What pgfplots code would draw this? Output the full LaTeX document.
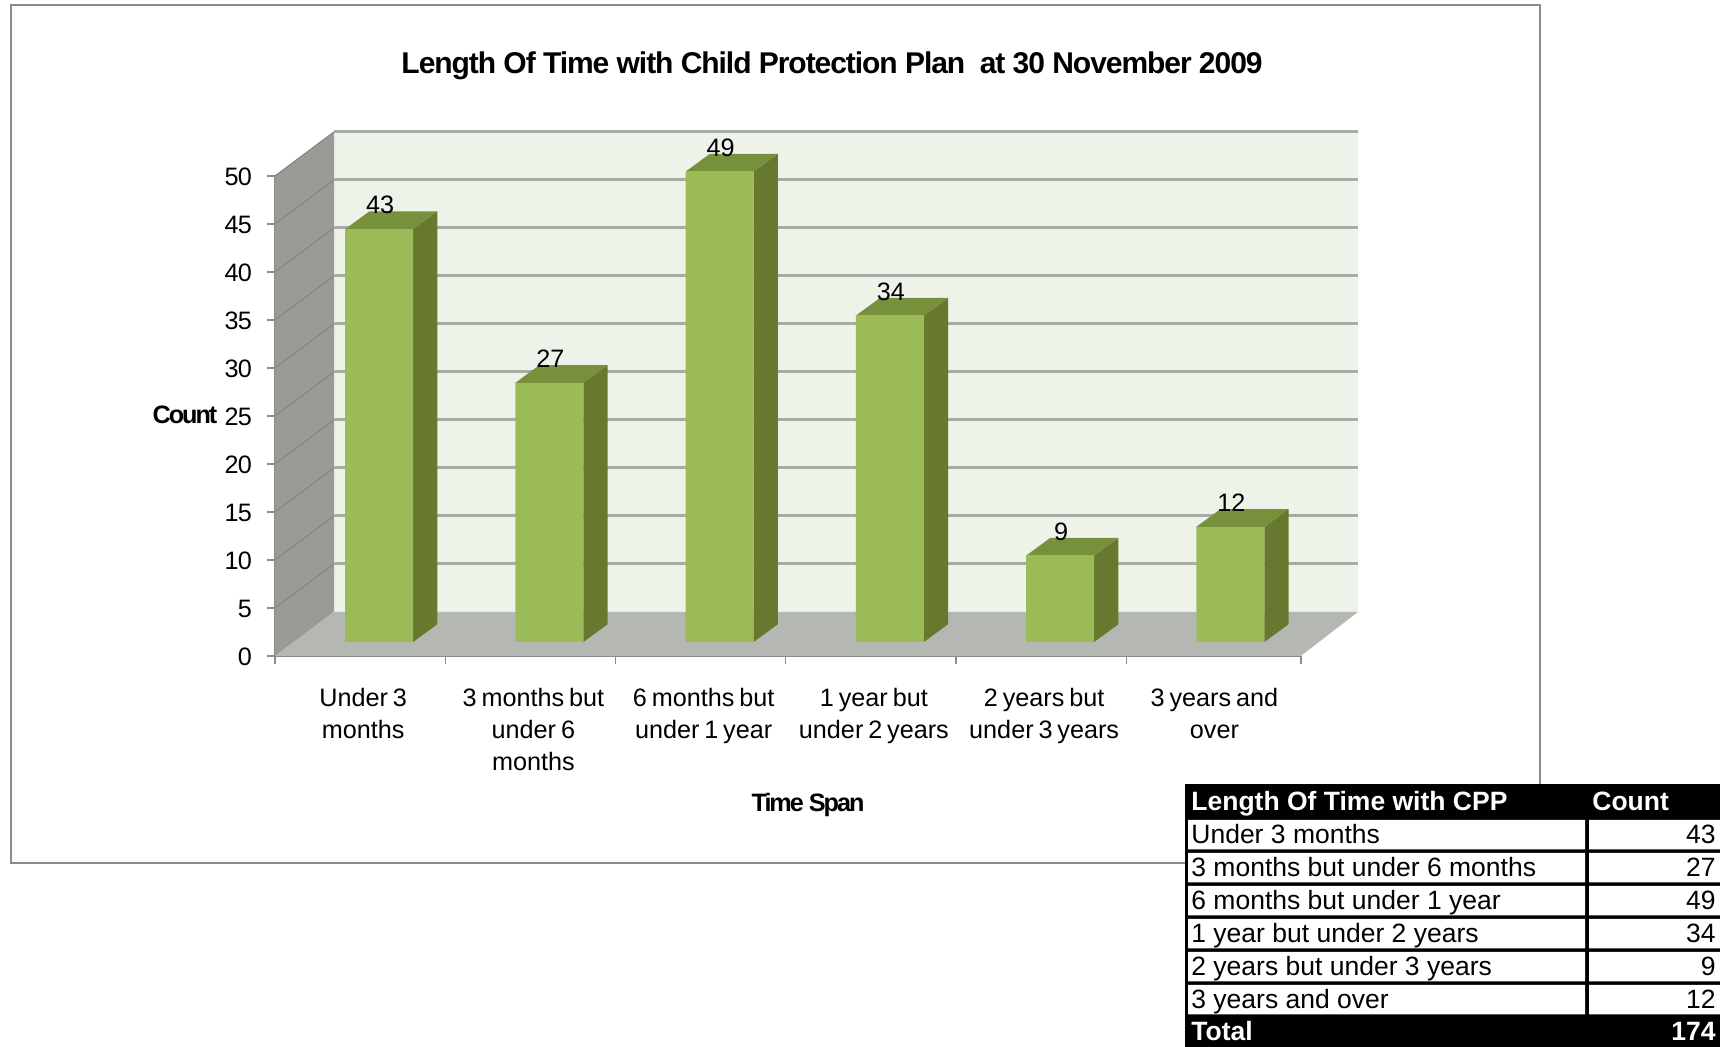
\documentclass[border=0pt]{standalone}
\usepackage{pgfplots}
\pgfplotsset{compat=1.18}
\usepackage{fontspec}
\setmainfont{Liberation Sans}
\newfontfamily\catfont[WordSpace=0.7]{Liberation Sans}

\definecolor{barfront}{HTML}{9BBB59}
\definecolor{barside}{HTML}{66792F}
\definecolor{bartop}{HTML}{77903C}
\definecolor{backwall}{HTML}{EEF3EA}
\definecolor{floorc}{HTML}{B5B7B3}
\definecolor{gridc}{HTML}{A9ABA5}
\definecolor{axisc}{HTML}{8A8C88}
\definecolor{sidewall}{HTML}{999B97}
\definecolor{sidegrid}{HTML}{858782}

% 1 px of the reference is 0.5pt; x unit 170.25 px, y unit 9.6 px
\newcommand{\threedbar}[2]{%
  \pgfmathsetmacro\xa{#1-0.5+0.1116-0.1997}
  \pgfmathsetmacro\xb{#1-0.5+0.1116+0.1997}
  \pgfmathsetmacro\xc{\xb+0.142}
  \pgfmathsetmacro\xd{\xa+0.142}
  \pgfmathsetmacro\ya{1.458}
  \pgfmathsetmacro\yb{1.458+1.85}
  \pgfmathsetmacro\yc{#2+1.458}
  \pgfmathsetmacro\yd{#2+1.458+1.85}
  \edef\tmp{\noexpand\addplot[fill=barside,draw=none,forget plot] coordinates
    {(\xb,\ya) (\xc,\yb) (\xc,\yd) (\xb,\yc)} --cycle;
    \noexpand\addplot[fill=bartop,draw=none,forget plot] coordinates
    {(\xa,\yc) (\xb,\yc) (\xc,\yd) (\xd,\yd)} --cycle;}
  \tmp
}
\newcommand{\wallgrid}[1]{%
  \pgfmathsetmacro\ya{#1+4.583}
  \edef\tmp{\noexpand\addplot[gridc,line width=1.5pt,forget plot] coordinates
    {(0.3466,\ya) (6.36,\ya)};
    \noexpand\addplot[sidegrid,line width=0.6pt,forget plot] coordinates
    {(0,#1) (0.3466,\ya)};}
  \tmp
}

\begin{document}
\begin{tikzpicture}
  % reference pixel frame, the axis origin is at pixel (275,656)
  \begin{scope}[x=0.5pt,y=-0.5pt,shift={(-275,-656)}]
    \path[use as bounding box] (0,0) rectangle (1720,1047);
    \draw[axisc,line width=0.8pt] (11,5) rectangle (1540,863);
  \end{scope}

  \begin{axis}[
    scale only axis,
    width=512.9pt,
    height=240pt,
    xmin=0, xmax=6.025,
    ymin=0, ymax=50,
    clip=false,
    axis x line*=bottom,
    axis y line*=left,
    axis line style={axisc,line width=0.8pt,-},
    tick align=outside,
    ytick={0,5,...,50},
    xtick={0.5,1.5,2.5,3.5,4.5,5.5},
    minor xtick={0,1,2,3,4,5,6.025},
    xticklabels={
      {Under 3\\months},
      {3 months but\\under 6\\months},
      {6 months but\\under 1 year},
      {1 year but\\under 2 years},
      {2 years but\\under 3 years},
      {3 years and\\over}},
    major tick length=4pt,
    minor tick length=4pt,
    tick style={axisc,line width=0.7pt},
    major x tick style={draw=none},
    /pgf/number format/assume math mode=true,
    x tick label style={font=\catfont\fontsize{12.6}{16}\selectfont,
      align=center,yshift=-8.5pt,xshift=1.5pt},
    y tick label style={font=\fontsize{12.6}{16}\selectfont\addfontfeatures{LetterSpace=-3},
      xshift=-4pt,yshift=-0.5pt},
  ]
    % walls and floor
    \addplot[fill=backwall,draw=none,forget plot] coordinates
      {(0.3466,4.583) (6.36,4.583) (6.36,54.583) (0.3466,54.583)} --cycle;
    \addplot[fill=sidewall,draw=none,forget plot] coordinates
      {(0,0) (0.3466,4.583) (0.3466,54.583) (0,50)} --cycle;
    \addplot[fill=floorc,draw=none,forget plot] coordinates
      {(0,0) (0.3466,4.583) (6.36,4.583) (6.025,0)} --cycle;
    \wallgrid{5}
    \wallgrid{10}
    \wallgrid{15}
    \wallgrid{20}
    \wallgrid{25}
    \wallgrid{30}
    \wallgrid{35}
    \wallgrid{40}
    \wallgrid{45}
    \wallgrid{50}

    \threedbar{1}{43}
    \threedbar{2}{27}
    \threedbar{3}{49}
    \threedbar{4}{34}
    \threedbar{5}{9}
    \threedbar{6}{12}

    % front faces, moved onto the floor
    \addplot[ybar,bar width=34pt,bar shift=0pt,fill=barfront,draw=none,
      xshift=9.5pt,yshift=7pt,
      nodes near coords,
      every node near coord/.append style={anchor=center,black,xshift=0.5pt,yshift=12pt,
        font=\fontsize{12.6}{15}\selectfont}]
      coordinates {(0.5,43) (1.5,27) (2.5,49) (3.5,34) (4.5,9) (5.5,12)};
  \end{axis}

  \begin{scope}[x=0.5pt,y=-0.5pt,shift={(-275,-656)}]
    \node[font=\fontsize{15}{18}\selectfont\bfseries\addfontfeatures{LetterSpace=-3.5}] at (832,66)
      {Length Of Time with Child Protection Plan\ \ at 30 November 2009};
    \node[font=\fontsize{12.6}{15}\selectfont\bfseries\addfontfeatures{LetterSpace=-8}] at (185,415) {Count};
    \node[font=\fontsize{12.6}{15}\selectfont\bfseries\addfontfeatures{LetterSpace=-8}] at (808,805) {Time Span};

    % data table
    \fill[black] (1185,784) rectangle (1720,1047);
    \foreach \r in {0,...,5}
      \fill[white] (1188,820+33*\r) rectangle (1585,849.5+33*\r)
                   (1589,820+33*\r) rectangle (1720,849.5+33*\r);
    \def\tfont{\fontsize{13.25}{15}\selectfont}
    \node[anchor=base west,white,font=\tfont\bfseries,inner sep=0pt] at (1191,811) {Length Of Time with CPP};
    \node[anchor=base west,white,font=\tfont\bfseries,inner sep=0pt] at (1592,811) {Count};
    \foreach \r/\t/\n in {0/Under 3 months/43,1/3 months but under 6 months/27,
        2/6 months but under 1 year/49,3/1 year but under 2 years/34,
        4/2 years but under 3 years/9,5/3 years and over/12}{
      \node[anchor=base west,font=\tfont,inner sep=0pt] at (1191,843.5+33*\r) {\t};
      \node[anchor=base east,font=\tfont,inner sep=0pt] at (1716,843.5+33*\r) {\n};
    }
    \node[anchor=base west,white,font=\tfont\bfseries,inner sep=0pt] at (1191,1041) {Total};
    \node[anchor=base east,white,font=\tfont\bfseries,inner sep=0pt] at (1716,1041) {174};
  \end{scope}
\end{tikzpicture}
\end{document}
